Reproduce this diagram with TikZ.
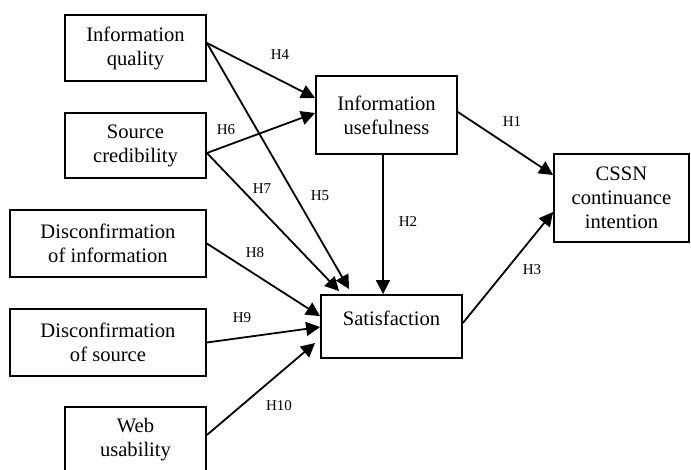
\documentclass[tikz,border=0pt]{standalone}
\usepackage{fontspec}
\setmainfont{Liberation Serif}
\usetikzlibrary{arrows.meta,calc}
\begin{document}
\begin{tikzpicture}[x=0.5pt,y=-0.5pt,
  box/.style={draw,line width=0.9pt,align=center,inner sep=0pt,font=\fontsize{10.3}{12}\selectfont},
  hyp/.style={font=\fontsize{7.5}{9}\selectfont,inner sep=0pt},
  arr/.style={line width=0.9pt,-{Triangle[length=7pt,width=7pt]}}]
\useasboundingbox (0,0) rectangle (691,470);
\clip (0,0) rectangle (691,470);
% boxes
\node[box,minimum width=70.5pt,minimum height=33pt] (iq) at (135.5,48) {Information\\quality};
\node[box,minimum width=70.5pt,minimum height=32.5pt] (sc) at (135.5,145.5) {Source\\credibility};
\node[box,minimum width=98pt,minimum height=33.5pt] (di) at (108,243.5) {Disconfirmation\\of information};
\node[box,minimum width=98pt,minimum height=33.5pt] (ds) at (108,342.5) {Disconfirmation\\of source};
\node[box,minimum width=70.5pt,minimum height=33pt] (wu) at (135.5,440) {Web\\usability};
\node[box,minimum width=70.5pt,minimum height=39pt] (iu) at (386.5,115) {Information\\usefulness};
\node[box,minimum width=70.5pt,minimum height=31.5pt] (sat) at (391.5,326.5) {};
\node[box,draw=none] (sattext) at ([yshift=4pt]sat.center) {Satisfaction};
\node[box,minimum width=67.5pt,minimum height=44pt] (cssn) at (621.5,198) {CSSN\\continuance\\intention};
% connectors
\draw[arr] ([yshift=2.5pt]iq.east) -- ([yshift=8.5pt]iu.west);
\draw[arr] ([yshift=-3.75pt]sc.east) -- ([yshift=1pt]iu.west);
\draw[arr] ([yshift=2.5pt]iq.east) -- ([xshift=14.5pt,yshift=2.5pt]sat.north west);
\draw[arr] ([yshift=-3.75pt]sc.east) -- ([xshift=9.5pt,yshift=1.5pt]sat.north west);
\draw[arr] (di.east) -- ([yshift=-11pt]sat.north west);
\draw[arr] (ds.east) -- ([yshift=-0.25pt]sat.west);
\draw[arr] ([yshift=2.5pt]wu.east) -- ([xshift=-2.5pt,yshift=-8.25pt]sat.west);
\draw[arr] ([xshift=-1.75pt]iu.south) -- ([xshift=-1.75pt]iu.south |- sat.north);
\draw[arr] ([yshift=1.5pt]iu.east) -- ([yshift=11.5pt]cssn.west);
\draw[arr] ([yshift=1.75pt]sat.east) -- ([yshift=-7pt]cssn.west);
% hypothesis labels
\node[hyp] (h4) at (280,55) {H4};
\node[hyp] (h6) at (226,130) {H6};
\node[hyp] (h7) at (262,189) {H7};
\node[hyp] (h5) at (320,196) {H5};
\node[hyp] (h2) at (408,222) {H2};
\node[hyp] (h8) at (255,253) {H8};
\node[hyp] (h9) at (242,318) {H9};
\node[hyp] (h10) at (279,406) {H10};
\node[hyp] (h1) at (512,122) {H1};
\node[hyp] (h3) at (532,270) {H3};
\end{tikzpicture}
\end{document}
